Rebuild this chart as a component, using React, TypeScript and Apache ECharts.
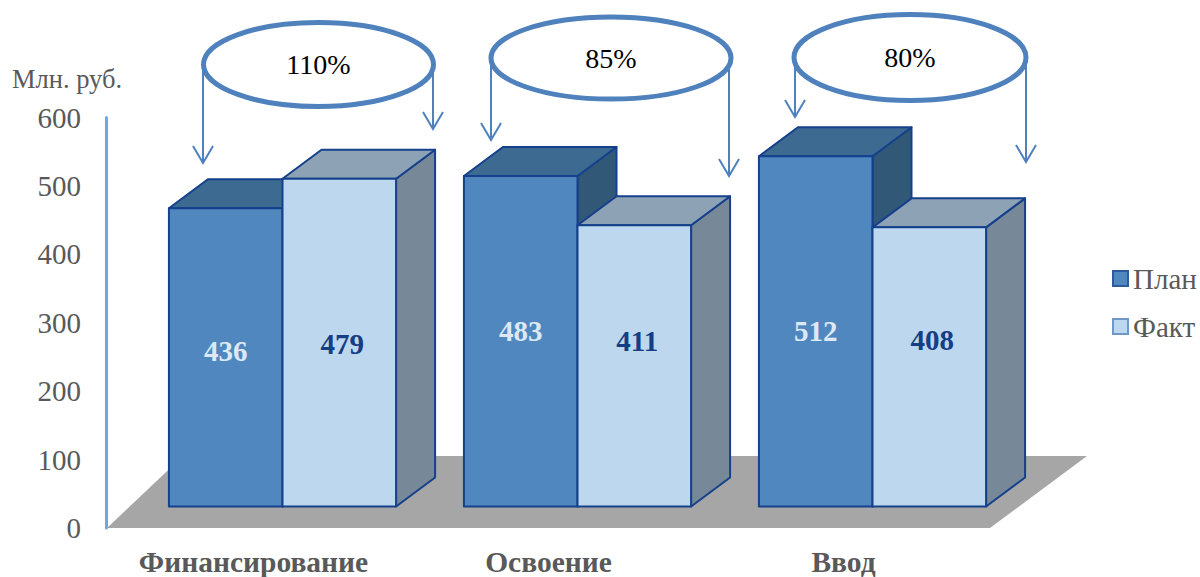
import React, { useEffect, useRef } from "react";
import * as echarts from "echarts";

const categories = ["Финансирование", "Освоение", "Ввод"];
const planValues = [436, 483, 512];
const factValues = [479, 411, 408];
const ratioLabels = ["110%", "85%", "80%"];
const yTicks = { min: 0, max: 600, interval: 100 };
const unitLabel = "Млн. руб.";

const SERIF = "'Liberation Serif', 'Times New Roman', serif";
const GREY = "#595959";
const EDGE = "#15408c";
const CALLOUT = "#4f81bd";

// layout of the pseudo-3D drawing, in pixels
const BAR_SHIFT = { x: 29, y: -21.5 };
const DEPTH = { x: 39, y: -29 };
const LABEL_Y: number[][] = [[351, 331, 331], [344, 341, 340]];
const LABEL_DX = [0, 3];

const CALLOUTS = [
  { cx: 318.5, cy: 64.5, rx: 115, ry: 42, lx: 203, ly: 163, rx2: 433, ry2: 129, ty: 64 },
  { cx: 611, cy: 58, rx: 120, ry: 41, lx: 491, ly: 140, rx2: 729, ry2: 176, ty: 58 },
  { cx: 910, cy: 57.5, rx: 116, ry: 43, lx: 795, ly: 117, rx2: 1026, ry2: 162, ty: 57 },
];

function arrow(x: number, y0: number, y1: number) {
  const style = { stroke: CALLOUT, lineWidth: 2, fill: "none" };
  return [
    { type: "line", shape: { x1: x, y1: y0, x2: x, y2: y1 }, style },
    {
      type: "polyline",
      shape: { points: [[x - 10, y1 - 17], [x, y1], [x + 10, y1 - 17]] },
      style,
    },
  ];
}

function makeRender(
  seriesIdx: number,
  front: string,
  top: string,
  side: string,
  labelColor: string
) {
  return (_params: any, api: any) => {
    const i = api.value(0);
    const v = api.value(1);
    const band = api.size([1, 0])[0];
    const w = band * 0.385;
    const base = api.coord([i, 0]);
    const head = api.coord([i, v]);
    const x0 = base[0] + BAR_SHIFT.x + (seriesIdx === 0 ? -w : 0);
    const x1 = x0 + w;
    const yb = base[1] + BAR_SHIFT.y;
    const yt = head[1] + BAR_SHIFT.y;
    const d = DEPTH;
    const stroke = { stroke: EDGE, lineWidth: 2, lineJoin: "round" };
    return {
      type: "group",
      children: [
        {
          type: "polygon",
          shape: { points: [[x1, yb], [x1 + d.x, yb + d.y], [x1 + d.x, yt + d.y], [x1, yt]] },
          style: { fill: side, ...stroke },
        },
        {
          type: "polygon",
          shape: { points: [[x0, yt], [x0 + d.x, yt + d.y], [x1 + d.x, yt + d.y], [x1, yt]] },
          style: { fill: top, ...stroke },
        },
        {
          type: "rect",
          shape: { x: x0, y: yt, width: w, height: yb - yt },
          style: { fill: front, ...stroke },
        },
        {
          type: "text",
          style: {
            text: String(v),
            x: (x0 + x1) / 2 + LABEL_DX[seriesIdx],
            y: LABEL_Y[seriesIdx][i],
            align: "center",
            verticalAlign: "middle",
            fill: labelColor,
            font: `bold 29px ${SERIF}`,
          },
        },
      ],
    };
  };
}

export default function App() {
  const ref = useRef<HTMLDivElement>(null);
  useEffect(() => {
    const chart = echarts.init(ref.current!, undefined, { renderer: "svg" });
    const graphics: any[] = [
      {
        type: "polygon",
        z: 0,
        shape: { points: [[107, 528], [990, 528], [1087, 456], [183, 456]] },
        style: { fill: "#a6a6a6" },
      },
      {
        type: "text",
        left: 12,
        top: 65,
        style: { text: unitLabel, fill: GREY, font: `26.5px ${SERIF}` },
      },
    ];
    CALLOUTS.forEach((c, i) => {
      [...arrow(c.lx, c.cy, c.ly), ...arrow(c.rx2, c.cy, c.ry2)].forEach((a) =>
        graphics.push({ ...a, z: 5 })
      );
      graphics.push({
        type: "ellipse",
        z: 6,
        shape: { cx: c.cx, cy: c.cy, rx: c.rx, ry: c.ry },
        style: { fill: "#ffffff", stroke: CALLOUT, lineWidth: 5 },
      });
      graphics.push({
        type: "text",
        z: 7,
        style: {
          text: ratioLabels[i],
          x: c.cx,
          y: c.ty,
          align: "center",
          verticalAlign: "middle",
          fill: "#000000",
          font: `28px ${SERIF}`,
        },
      });
    });

    chart.setOption({
      animation: false,
      backgroundColor: "#ffffff",
      grid: {
        left: 106,
        right: 209,
        top: 117.5,
        bottom: 49,
        containLabel: false,
        outerBoundsMode: "none",
      },
      legend: {
        orient: "vertical",
        left: 1107,
        top: 259,
        itemWidth: 15,
        itemHeight: 15,
        itemGap: 19,
        icon: "rect",
        textStyle: { color: GREY, fontFamily: SERIF, fontSize: 29 },
        data: ["План", "Факт"],
      },
      xAxis: {
        type: "category",
        data: categories,
        axisLine: { show: false },
        axisTick: { show: false },
        axisLabel: {
          interval: 0,
          hideOverlap: false,
          color: GREY,
          fontFamily: SERIF,
          fontSize: 29.5,
          fontWeight: "bold",
          margin: 19,
        },
      },
      yAxis: {
        type: "value",
        min: yTicks.min,
        max: yTicks.max,
        interval: yTicks.interval,
        splitLine: { show: false },
        axisTick: { show: false },
        axisLine: { show: true, lineStyle: { color: "#6fa8dc", width: 3 } },
        axisLabel: { color: GREY, fontFamily: SERIF, fontSize: 29, margin: 25 },
      },
      series: [
        {
          name: "План",
          type: "custom",
          clip: false,
          z: 2,
          itemStyle: { color: "#5087be", borderColor: "#2c5c9e", borderWidth: 1 },
          encode: { x: 0, y: 1 },
          data: planValues.map((v, i) => [i, v]),
          renderItem: makeRender(0, "#5087be", "#3d6a91", "#325877", "#dce9f5"),
        },
        {
          name: "Факт",
          type: "custom",
          clip: false,
          z: 3,
          itemStyle: { color: "#bdd7ee", borderColor: "#6f97c8", borderWidth: 1 },
          encode: { x: 0, y: 1 },
          data: factValues.map((v, i) => [i, v]),
          renderItem: makeRender(1, "#bdd7ee", "#8da2b5", "#778899", "#153e84"),
        },
      ],
      graphic: { elements: graphics },
    });
    return () => chart.dispose();
  }, []);
  return (
    <div
      ref={ref}
      style={{ position: "fixed", left: 0, top: 0, width: 1200, height: 577 }}
    />
  );
}
